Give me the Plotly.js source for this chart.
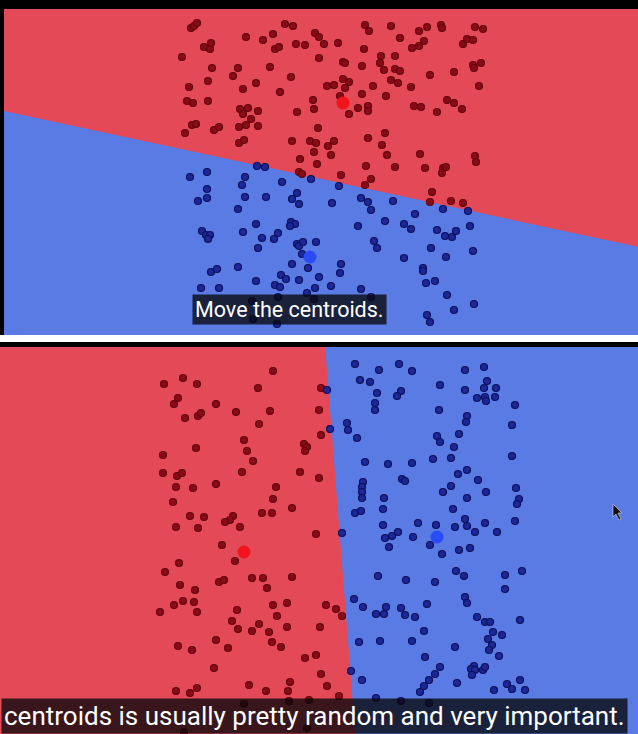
<!DOCTYPE html>
<html>
<head>
<meta charset="utf-8">
<script src="https://cdn.plot.ly/plotly-3.0.1.min.js"></script>
<style>
html,body{margin:0;padding:0;background:#000;}
#chart{width:638px;height:734px;}
</style>
</head>
<body>
<div id="chart"></div>
<script>
// ---- Data (frame coordinates) ----
// Top frame: points assigned to the red cluster
const topRed = [
[191,28],[194,26],[197,23],[182,57],[204,47],[210,49],[211,43],[246,37],[263,40],[273,34],[275,49],[279,47],
[285,24],[293,26],[296,44],[305,45],[315,33],[319,37],[324,44],[338,43],[319,58],[212,68],[238,68],[233,76],
[270,67],[291,77],[208,81],[189,87],[243,89],[256,83],[280,92],[327,86],[334,85],[187,101],[193,103],[208,101],
[240,109],[248,108],[243,114],[258,111],[251,119],[246,125],[258,126],[297,112],[313,100],[314,109],[192,125],
[196,124],[185,133],[214,130],[219,127],[239,127],[318,128],[239,143],[244,140],[292,141],[310,141],[316,143],
[314,152],[328,146],[334,141],[331,155],[300,159],[317,164],
[365,25],[369,31],[391,26],[419,31],[427,27],[441,25],[442,28],[475,27],[483,29],[364,49],[400,38],[412,48],
[419,46],[424,41],[463,44],[467,39],[473,40],[343,62],[345,63],[362,66],[381,56],[380,63],[395,56],[384,70],
[395,69],[400,71],[430,75],[454,72],[473,65],[474,68],[481,63],[343,79],[349,82],[345,88],[373,86],[391,80],
[398,83],[411,87],[479,86],[362,94],[386,96],[340,96],[358,108],[368,106],[368,111],[349,114],[414,106],[421,107],
[437,112],[447,100],[454,103],[462,109],[385,133],[368,138],[382,145],[387,155],[420,154],[475,156],[476,162],
[366,166],[395,167],[425,168],[443,168],[446,167],[442,173],[341,175],[371,179],[365,185],[432,192],[430,202],
[451,201],[463,203],[299,172],[302,174]
];
// Top frame: points assigned to the blue cluster
const topBlue = [
[257,166],[265,167],[190,177],[207,172],[245,177],[242,185],[282,182],[311,179],[207,189],[207,198],[198,201],
[245,197],[266,197],[297,193],[292,199],[299,204],[332,203],[238,209],[256,224],[291,222],[295,224],[290,226],
[202,231],[206,235],[210,235],[208,239],[243,232],[278,233],[274,239],[262,238],[258,248],[297,244],[299,246],
[303,242],[316,242],[302,254],[292,264],[308,268],[211,272],[217,269],[238,267],[281,275],[286,279],[299,280],
[319,277],[256,281],[275,285],[280,287],[201,288],[219,288],[315,288],[331,286],[307,293],[278,297],[252,301],
[314,299],[253,319],[277,324],
[339,186],[361,198],[368,202],[371,210],[393,201],[415,214],[443,209],[468,211],[385,221],[404,224],[411,229],
[358,226],[437,230],[445,236],[452,237],[456,231],[470,226],[374,241],[377,248],[431,248],[446,257],[473,251],
[404,258],[341,264],[340,273],[423,268],[423,271],[426,283],[435,281],[361,289],[371,297],[447,295],[474,304],
[454,310],[427,315],[430,322]
];
const topCentroids = {red:[343,103], blue:[310,257]};

// Bottom frame: red cluster
const botRed = [
[273,371],[164,384],[183,378],[197,384],[258,388],[321,388],[178,398],[174,404],[216,404],[185,418],[198,416],
[201,413],[236,412],[270,411],[319,410],[259,424],[321,435],[244,440],[196,448],[163,455],[247,451],[304,444],
[307,447],[305,451],[253,461],[163,473],[177,476],[182,473],[242,472],[300,472],[319,478],[216,484],[176,487],
[193,488],[276,487],[273,499],[173,502],[292,508],[190,516],[204,517],[233,516],[230,520],[225,522],[262,513],
[272,513],[176,527],[198,528],[240,527],[316,534],
[222,545],[235,561],[179,563],[165,572],[180,585],[195,590],[219,582],[224,580],[252,578],[263,578],[267,588],
[292,577],[183,601],[194,602],[174,605],[160,612],[197,612],[237,610],[273,605],[287,603],[326,605],[336,609],
[342,616],[277,616],[232,621],[238,629],[259,624],[252,631],[269,632],[287,627],[320,627],[216,640],[272,642],
[281,647],[178,646],[192,650],[228,648],[305,658],[316,655],[214,668],[321,674],[290,682],[249,685],[327,686],
[176,691],[190,693],[197,688],[266,691],[288,691],[339,696],[244,704],[309,700],[289,701],[307,728],[184,732]
];
// Bottom frame: blue cluster
const botBlue = [
[327,390],[330,429],[342,533],
[355,364],[379,370],[399,364],[412,371],[465,370],[484,367],[360,380],[370,382],[377,393],[401,391],[397,396],
[440,385],[465,390],[487,381],[484,388],[496,388],[477,398],[485,397],[486,401],[495,397],[515,405],[375,403],
[375,410],[439,410],[467,416],[466,422],[512,425],[347,423],[348,430],[357,438],[437,436],[440,442],[459,434],
[454,447],[365,462],[388,464],[412,463],[433,459],[451,458],[512,456],[458,474],[467,470],[363,482],[362,487],
[362,492],[362,498],[402,479],[405,481],[443,492],[451,486],[478,480],[486,492],[516,488],[384,498],[467,498],
[519,499],[517,504],[355,513],[361,511],[383,509],[453,509],[465,519],[515,521],[383,525],[418,523],[436,525],
[455,527],[467,526],[485,523],[385,538],[392,536],[398,532],[413,537],[475,532],[497,532],
[389,547],[430,545],[442,554],[459,550],[470,548],[378,576],[406,580],[435,582],[456,571],[464,576],[505,575],
[522,571],[505,589],[354,599],[363,607],[386,607],[384,614],[376,614],[401,608],[405,615],[415,617],[427,604],
[465,597],[467,603],[477,617],[485,622],[490,622],[520,620],[424,631],[493,632],[502,635],[488,639],[492,645],
[489,650],[359,642],[380,641],[412,641],[455,647],[425,657],[499,656],[351,671],[440,667],[435,674],[429,680],
[424,686],[420,692],[474,666],[471,669],[475,670],[472,675],[483,670],[485,667],[362,680],[457,683],[494,690],
[507,684],[512,689],[520,680],[525,690],[376,698],[401,701],[429,703]
];
const botCentroids = {red:[244,552], blue:[437,537]};

const captions = ["Move the centroids.", "centroids is usually pretty random and very important."];

// ---- Styles ----
const RED_BG = '#e34956', BLUE_BG = '#5a7ae4';
const RED_PT = '#8a0b17', RED_PT_EDGE = '#64040b';
const BLUE_PT = '#1c2798', BLUE_PT_EDGE = '#0b105a';
const RED_C = '#f2141c', BLUE_C = '#2a4cf6';

// frame extents in data units (axis ranges)
const topRange = {x:[4,638], y:[335,9]};
const botRange = {x:[0,638], y:[734,347]};

// region of the rectangle that is closer to the red centroid (half-plane clip)
function redRegion(range, c) {
  const [x0,x1] = range.x; const y0 = Math.min(...range.y), y1 = Math.max(...range.y);
  const rect = [[x0,y0],[x1,y0],[x1,y1],[x0,y1]];
  const f = p => { const dr=(p[0]-c.red[0])**2+(p[1]-c.red[1])**2, db=(p[0]-c.blue[0])**2+(p[1]-c.blue[1])**2; return db-dr; };
  const out = [];
  for (let i=0;i<rect.length;i++){
    const a=rect[i], b=rect[(i+1)%rect.length], fa=f(a), fb=f(b);
    if (fa>=0) out.push(a);
    if ((fa>=0)!==(fb>=0)) { const t=fa/(fa-fb); out.push([a[0]+t*(b[0]-a[0]), a[1]+t*(b[1]-a[1])]); }
  }
  out.push(out[0]);
  return out;
}

function regionTrace(poly, xa, ya){
  return {x:poly.map(p=>p[0]), y:poly.map(p=>p[1]), xaxis:xa, yaxis:ya, mode:'lines', fill:'toself',
    fillcolor:RED_BG, line:{width:0, color:RED_BG}, hoverinfo:'skip', showlegend:false};
}
function ptsTrace(pts, xa, ya, col, edge){
  return {x:pts.map(p=>p[0]), y:pts.map(p=>p[1]), xaxis:xa, yaxis:ya, mode:'markers', type:'scatter',
    marker:{size:7, color:col, line:{color:edge, width:1.2}}, hoverinfo:'skip', showlegend:false};
}
function centTrace(c, xa, ya){
  return {x:[c.red[0], c.blue[0]], y:[c.red[1], c.blue[1]], xaxis:xa, yaxis:ya, mode:'markers', type:'scatter',
    marker:{size:13, color:[RED_C, BLUE_C], line:{width:0}}, hoverinfo:'skip', showlegend:false};
}

const traces = [
  regionTrace(redRegion(topRange, topCentroids), 'x', 'y'),
  ptsTrace(topRed, 'x', 'y', RED_PT, RED_PT_EDGE),
  ptsTrace(topBlue, 'x', 'y', BLUE_PT, BLUE_PT_EDGE),
  centTrace(topCentroids, 'x', 'y'),
  regionTrace(redRegion(botRange, botCentroids), 'x2', 'y2'),
  ptsTrace(botRed, 'x2', 'y2', RED_PT, RED_PT_EDGE),
  ptsTrace(botBlue, 'x2', 'y2', BLUE_PT, BLUE_PT_EDGE),
  centTrace(botCentroids, 'x2', 'y2')
];

const H = 734, W = 638;
const ax = (range, dom, anchor) => ({range:range, domain:dom, anchor:anchor, showgrid:false, zeroline:false,
  showticklabels:false, ticks:'', showline:false, fixedrange:true});

const layout = {
  width:W, height:H, margin:{l:0,r:0,t:0,b:0,pad:0},
  paper_bgcolor:'#000', plot_bgcolor:BLUE_BG, showlegend:false,
  xaxis: ax(topRange.x, [4/W, 1], 'y'),
  yaxis: ax(topRange.y, [1-335/H, 1-9/H], 'x'),
  xaxis2: ax(botRange.x, [0, 1], 'y2'),
  yaxis2: ax(botRange.y, [0, 1-347/H], 'x2'),
  shapes: [
    {type:'rect', xref:'paper', yref:'paper', x0:0, x1:1, y0:1-342/H, y1:1-335/H, fillcolor:'#ffffff', line:{width:0}, layer:'above'},
    {type:'path', xref:'x2', yref:'y2', path:'M613,504 L613,517 L616,514 L619,520 L621,519 L618,513 L622,513 Z',
     fillcolor:'#111', line:{color:'#ddd', width:0.6}, layer:'above'}
  ],
  annotations: [
    {xref:'paper', yref:'paper', x:289.5/W, y:1-309/H, xanchor:'center', yanchor:'middle', showarrow:false,
     text:captions[0], font:{family:'Roboto, sans-serif', size:21.5, color:'#ffffff'},
     bgcolor:'rgba(8,8,12,0.78)', borderpad:2},
    {xref:'paper', yref:'paper', x:314/W, y:1-716/H, xanchor:'center', yanchor:'middle', showarrow:false,
     text:captions[1], font:{family:'Roboto, sans-serif', size:26, color:'#ffffff'},
     bgcolor:'rgba(8,8,12,0.78)', borderpad:2}
  ]
};

Plotly.newPlot('chart', traces, layout, {staticPlot:true, displayModeBar:false});
</script>
</body>
</html>
